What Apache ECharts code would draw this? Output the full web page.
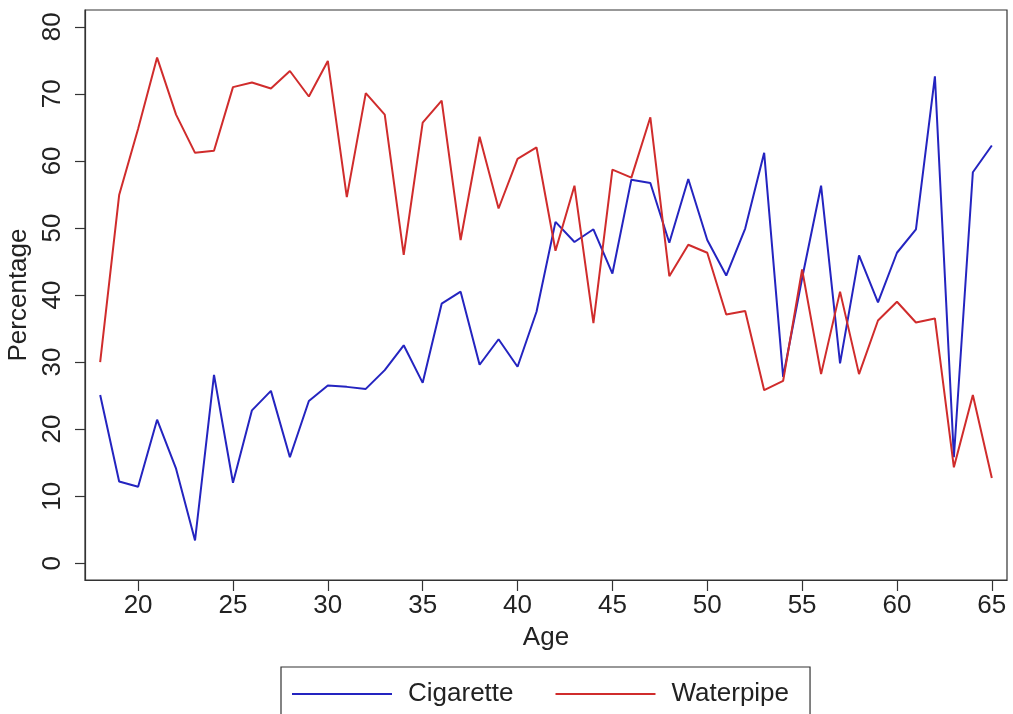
<!DOCTYPE html>
<html>
<head>
<meta charset="utf-8">
<script src="https://cdn.jsdelivr.net/npm/echarts@6/dist/echarts.min.js"></script>
<style>
html,body{margin:0;padding:0;background:#fff;}
#chart{width:1013px;height:714px;}
</style>
</head>
<body>
<div id="chart"></div>
<script>
const ages = [18,19,20,21,22,23,24,25,26,27,28,29,30,31,32,33,34,35,36,37,38,39,40,41,42,43,44,45,46,47,48,49,50,51,52,53,54,55,56,57,58,59,60,61,62,63,64,65];
const cigarette = [25.1,12.2,11.4,21.4,14.1,3.4,28.1,12.0,22.8,25.7,15.8,24.2,26.5,26.3,26.0,28.8,32.5,26.9,38.7,40.5,29.6,33.4,29.3,37.5,50.9,47.9,49.8,43.2,57.2,56.7,47.8,57.3,48.2,42.9,49.9,61.2,27.8,42.5,56.3,29.8,45.9,38.9,46.3,49.8,72.6,15.8,58.3,62.3];
const waterpipe = [30.0,54.9,64.8,75.4,66.9,61.2,61.5,71.0,71.7,70.8,73.4,69.6,74.9,54.6,70.1,66.9,46.0,65.7,69.0,48.2,63.6,52.9,60.3,62.0,46.6,56.3,35.8,58.7,57.5,66.5,42.8,47.5,46.3,37.1,37.6,25.8,27.2,43.8,28.2,40.5,28.2,36.2,39.0,35.9,36.5,14.3,25.1,12.7];
const xTicks = [20,25,30,35,40,45,50,55,60,65];
const yTicks = [0,10,20,30,40,50,60,70,80];
const seriesNames = ['Cigarette','Waterpipe'];

const chart = echarts.init(document.getElementById('chart'), null, {renderer:'canvas'});
const font = 'Liberation Sans, Arial, sans-serif';
const txt = '#222';
const fs = 26;
chart.setOption({
  animation:false,
  backgroundColor:'#fff',
  grid:{left:85, top:10, right:6, bottom:134, outerBoundsMode:'none', containLabel:false, show:true, borderColor:'#333', borderWidth:1.2, backgroundColor:'transparent'},
  xAxis:{
    type:'value', min:17.2, max:65.8,
    name:'Age', nameLocation:'middle', nameGap:45,
    nameTextStyle:{fontFamily:font, fontSize:fs, color:txt},
    axisLine:{show:true, onZero:false, lineStyle:{color:'#333', width:1.2}},
    axisTick:{show:true, length:11, customValues:xTicks, lineStyle:{color:'#333', width:1.2}},
    axisLabel:{customValues:xTicks, margin:13, fontFamily:font, fontSize:fs, color:txt},
    splitLine:{show:false}
  },
  yAxis:{
    type:'value', min:-2.5, max:82.5,
    name:'Percentage', nameLocation:'middle', nameGap:44, nameRotate:90,
    nameTextStyle:{fontFamily:font, fontSize:fs, color:txt},
    axisLine:{show:true, onZero:false, lineStyle:{color:'#333', width:1.2}},
    axisTick:{show:true, length:10, customValues:yTicks, lineStyle:{color:'#333', width:1.2}},
    axisLabel:{customValues:yTicks, rotate:90, margin:19, fontFamily:font, fontSize:fs, color:txt},
    splitLine:{show:false}
  },
  legend:{
    left:281, top:667,
    padding:[14,21,14,11],
    borderColor:'#333', borderWidth:1.2,
    icon:'rect',
    itemWidth:100, itemHeight:2, itemGap:42,
    data:seriesNames,
    formatter:function(n){return '{t|'+n+'}';},
    textStyle:{fontFamily:font, fontSize:fs, color:txt, rich:{t:{fontFamily:font, fontSize:fs, color:txt, padding:[0,0,0,11]}}}
  },
  series:[
    {name:seriesNames[0], type:'line', data:ages.map((a,i)=>[a,cigarette[i]]), symbol:'none', lineStyle:{color:'#2424c0', width:2}, itemStyle:{color:'#2424c0'}},
    {name:seriesNames[1], type:'line', data:ages.map((a,i)=>[a,waterpipe[i]]), symbol:'none', lineStyle:{color:'#d02c2c', width:2}, itemStyle:{color:'#d02c2c'}}
  ]
});
</script>
</body>
</html>
